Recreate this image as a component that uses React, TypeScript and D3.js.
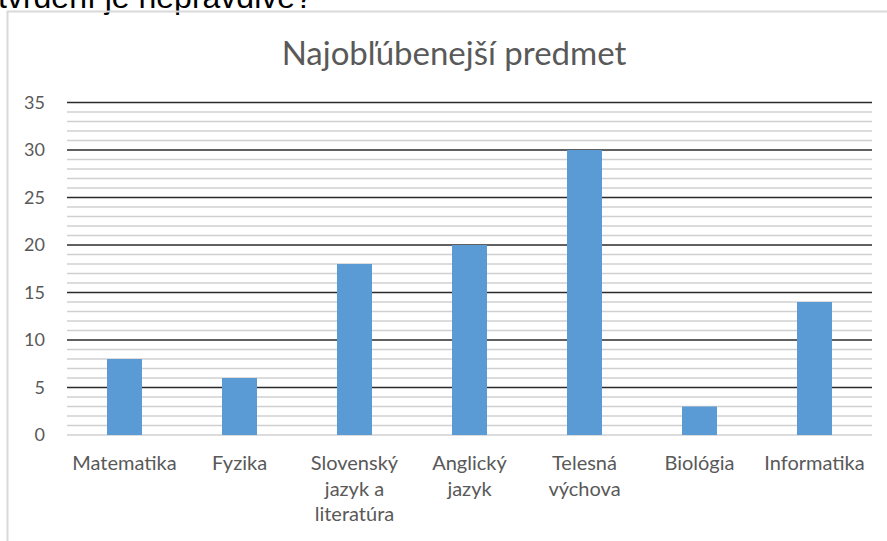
import * as d3 from "d3";
import { useEffect, useRef } from "react";

const categories = [
  "Matematika",
  "Fyzika",
  "Slovenský jazyk a literatúra",
  "Anglický jazyk",
  "Telesná výchova",
  "Biológia",
  "Informatika",
];
const tickLabels = [
  ["Matematika"],
  ["Fyzika"],
  ["Slovenský", "jazyk a", "literatúra"],
  ["Anglický", "jazyk"],
  ["Telesná", "výchova"],
  ["Biológia"],
  ["Informatika"],
];
const counts = [8, 6, 18, 20, 30, 3, 14];
const yTicks = [0, 5, 10, 15, 20, 25, 30, 35];
const title = "Najobľúbenejší predmet";
const questionText = "tvrdení je nepravdivé?";

export default function App() {
  const width = 887;
  const height = 541;
  const ref = useRef(null);

  useEffect(() => {
    const svg = d3.select(ref.current);
    svg.selectAll("*").remove();

    const left = 67;
    const right = 872;
    const top = 102.5;
    const bottom = 435;
    const font = "Lato, 'Open Sans', sans-serif";

    // leftover text from the page above the chart
    svg
      .append("text")
      .attr("x", -2)
      .attr("y", 8)
      .attr("font-family", "'Liberation Sans', Arial, sans-serif")
      .attr("font-size", 32)
      .attr("fill", "#000")
      .text(questionText);

    // chart frame (only top and left edge visible)
    svg
      .append("path")
      .attr("d", `M7.5,${height} V11.5 H887`)
      .attr("fill", "none")
      .attr("stroke", "#d9d9d9")
      .attr("stroke-width", 2);

    const x = d3.scaleBand().domain(categories).range([left, right]);
    const y = d3.scaleLinear().domain([0, 35]).range([bottom, top]);

    // minor gridlines every 1
    const minor = d3.range(0, 36).filter((v) => v % 5 !== 0 || v === 0);
    svg
      .append("g")
      .selectAll("line")
      .data(minor)
      .enter()
      .append("line")
      .attr("x1", left)
      .attr("x2", right)
      .attr("y1", (d) => y(d))
      .attr("y2", (d) => y(d))
      .attr("stroke", "#d0d0d0")
      .attr("stroke-width", 1.5);

    svg
      .append("g")
      .selectAll("line")
      .data(yTicks.filter((v) => v > 0))
      .enter()
      .append("line")
      .attr("x1", left)
      .attr("x2", right)
      .attr("y1", (d) => y(d))
      .attr("y2", (d) => y(d))
      .attr("stroke", "#2b2b2b")
      .attr("stroke-width", 1.6);

    svg
      .append("g")
      .selectAll("text")
      .data(yTicks)
      .enter()
      .append("text")
      .attr("x", 45)
      .attr("y", (d) => y(d) + 6)
      .attr("text-anchor", "end")
      .attr("font-family", font)
      .attr("font-size", 18)
      .attr("fill", "#595959")
      .text((d) => d);

    const barW = 35;
    svg
      .append("g")
      .selectAll("rect")
      .data(counts)
      .enter()
      .append("rect")
      .attr("x", (d, i) => x(categories[i]) + x.bandwidth() / 2 - barW / 2)
      .attr("y", (d) => y(d))
      .attr("width", barW)
      .attr("height", (d) => y(0) - y(d))
      .attr("fill", "#5b9bd5");

    const labels = svg
      .append("g")
      .selectAll("text")
      .data(tickLabels)
      .enter()
      .append("text")
      .attr("x", (d, i) => x(categories[i]) + x.bandwidth() / 2)
      .attr("y", 470)
      .attr("text-anchor", "middle")
      .attr("font-family", font)
      .attr("font-size", 20)
      .attr("fill", "#595959");
    labels
      .selectAll("tspan")
      .data((d) => d)
      .enter()
      .append("tspan")
      .attr("x", function () {
        return d3.select(this.parentNode).attr("x");
      })
      .attr("dy", (d, i) => (i === 0 ? 0 : 25.5))
      .text((d) => d);

    svg
      .append("text")
      .attr("x", 454)
      .attr("y", 65)
      .attr("text-anchor", "middle")
      .attr("font-family", font)
      .attr("font-size", 33)
      .attr("fill", "#595959")
      .text(title);
  }, []);

  return (
    <svg
      ref={ref}
      width={width}
      height={height}
      style={{ position: "absolute", left: 0, top: 0, background: "#fff" }}
    ></svg>
  );
}
